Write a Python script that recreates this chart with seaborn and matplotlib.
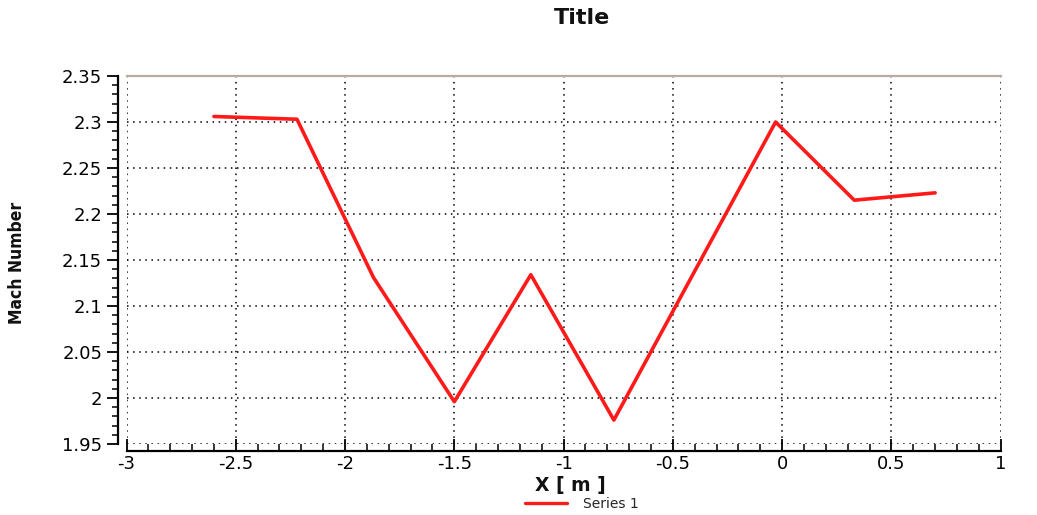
#!/usr/bin/env python3
"""
Mach number along X, redrawn from a scanned chart.
"""

import pandas as pd
import matplotlib.pyplot as plt
import seaborn as sns
from matplotlib.ticker import MultipleLocator

# values (relative to its dotted grid)
x_m = [-2.60, -2.22, -1.87, -1.50, -1.15, -0.77, -0.03, 0.33, 0.70]
mach = [2.306, 2.303, 2.131, 1.996, 2.134, 1.976, 2.300, 2.215, 2.223]
series_name = "Series 1"

x_ticks = [-3, -2.5, -2, -1.5, -1, -0.5, 0, 0.5, 1]
y_ticks = [1.95, 2.0, 2.05, 2.1, 2.15, 2.2, 2.25, 2.3, 2.35]


def main():
    df = pd.DataFrame({"X": x_m, "Mach": mach, "series": series_name})

    sns.set_theme(style="white")
    plt.rcParams["font.family"] = ["DejaVu Sans"]

    W, H = 1037, 515
    fig = plt.figure(figsize=(W / 100, H / 100), dpi=100)
    # plot box: 2.35 at y=76px, 1.95 at y=444px
    ax = fig.add_axes([0.122, 1 - 444 / H, 0.843, (444 - 76) / H])

    sns.lineplot(data=df, x="X", y="Mach", hue="series", palette=["#ff1a1a"],
                 linewidth=2.6, ax=ax, legend=True)

    ax.set_xlim(-3, 1)
    ax.set_ylim(1.95, 2.35)
    ax.set_xticks(x_ticks)
    ax.set_xticklabels([f"{v:g}" for v in x_ticks])
    ax.set_yticks(y_ticks)
    ax.set_yticklabels([f"{v:g}" for v in y_ticks])
    ax.xaxis.set_minor_locator(MultipleLocator(0.1))
    ax.yaxis.set_minor_locator(MultipleLocator(0.01))

    ax.grid(True, which="major", color="black", linestyle=(0, (1, 3)), linewidth=1.1)

    # axis lines sit apart from the plot box, like the original
    ax.spines["left"].set_position(("outward", 6))
    ax.spines["bottom"].set_position(("outward", 5))
    ax.spines["right"].set_visible(False)
    ax.spines["top"].set_color("#b8ada0")
    ax.spines["top"].set_linewidth(1.6)
    for s in ("left", "bottom"):
        ax.spines[s].set_color("black")
        ax.spines[s].set_linewidth(1.6)

    ax.tick_params(axis="y", which="major", direction="out", length=8, width=1.3,
                   colors="black", labelsize=13, left=True)
    ax.tick_params(axis="y", which="minor", direction="out", length=4, width=1.1,
                   colors="black", left=True)
    ax.tick_params(axis="x", which="major", direction="in", length=9, width=1.3,
                   colors="black", labelsize=13, bottom=True, pad=3)
    ax.tick_params(axis="x", which="minor", direction="in", length=5, width=1.1,
                   colors="black", bottom=True)

    fig.text(582 / W, 1 - 18 / H, "Title", ha="center", va="center",
             fontsize=16, fontweight="bold", color="#111111")
    ax.set_xlabel("")
    fig.text(570 / W, 1 - 485 / H, "X [ m ]", ha="center", va="center",
             fontsize=13.5, fontweight="bold", color="#111111")
    ax.set_ylabel("")
    fig.text(17 / W, 1 - 263 / H, "Mach Number", ha="center", va="center",
             rotation=90, fontsize=12.5, fontweight="bold", fontstretch="condensed",
             family=["DejaVu Sans"], color="#111111")

    handles, labels = ax.get_legend_handles_labels()
    ax.get_legend().remove()
    leg = fig.legend(handles, labels, loc="center", bbox_to_anchor=(582 / W, 1 - 504 / H),
                     frameon=False, fontsize=10, handlelength=3.0, borderpad=0,
                     handletextpad=1.2)
    for line in leg.get_lines():
        line.set_linewidth(2.4)

    fig.savefig("out.png", dpi=100)
    plt.close(fig)


if __name__ == "__main__":
    main()
